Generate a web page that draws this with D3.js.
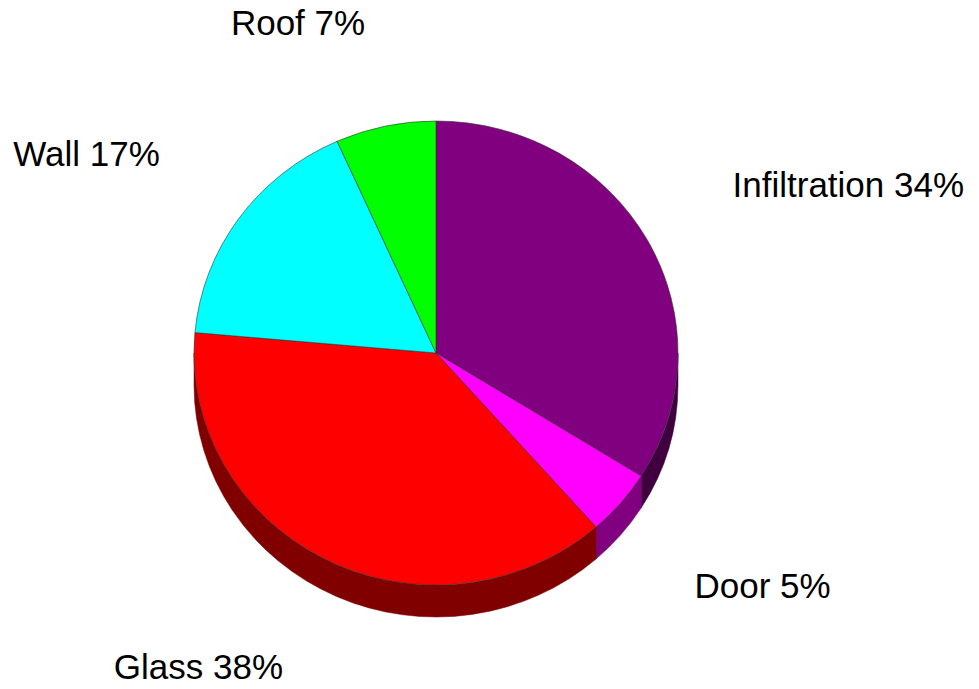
<!DOCTYPE html>
<meta charset="utf-8">
<style>
body { margin: 0; background: #fff; }
.label { font: 35px "Liberation Sans", Arial, sans-serif; fill: #000; }
</style>
<svg width="979" height="689"></svg>
<script src="https://cdn.jsdelivr.net/npm/d3@7"></script>
<script>

// Data (percent of heat loss), clockwise from 12 o'clock
var categories = ["Infiltration", "Door", "Glass", "Wall", "Roof"];
var values = [33.9, 4.6, 37.9, 16.9, 6.7];
var topColors = ["#800080", "#ff00ff", "#ff0000", "#00ffff", "#00ff00"];

var svg = d3.select("svg"),
    cx = 436, cy = 353,     // centre of the top face
    rx = 242, ry = 232,     // ellipse radii
    depth = 32,             // thickness of the disc
    labelRx = 339, labelRy = 330, labelCy = 345,
    labelDrop = 27;         // extra drop for labels in front of the disc

var slices = d3.pie().sort(null).value(function(d) { return d.value; })
  (categories.map(function(c, i) { return {name: c, value: values[i], color: topColors[i]}; }));

// angle measured clockwise from the top
function pt(a, dy) { return [cx + rx * Math.sin(a), cy - ry * Math.cos(a) + (dy || 0)]; }

function sideColor(c) {
  var k = d3.rgb(c);
  return d3.rgb(k.r / 2, k.g / 2, k.b / 2).formatHex();
}

// side walls: only the front half (pi/2 .. 3pi/2) is visible
var sideG = svg.append("g");
slices.forEach(function(s) {
  var a0 = Math.max(s.startAngle, Math.PI / 2),
      a1 = Math.min(s.endAngle, 3 * Math.PI / 2);
  if (a1 <= a0) return;
  var t0 = pt(a0), t1 = pt(a1), b0 = pt(a0, depth), b1 = pt(a1, depth);
  var p = "M" + t0 + "A" + rx + "," + ry + " 0 0 1 " + t1 +
          "L" + b1 + "A" + rx + "," + ry + " 0 0 0 " + b0 + "Z";
  sideG.append("path")
      .attr("d", p)
      .attr("fill", sideColor(s.data.color))
      .attr("stroke", sideColor(s.data.color))
      .attr("stroke-width", 0.5);
});

// top face
var faceG = svg.append("g");
slices.forEach(function(s) {
  var p0 = pt(s.startAngle), p1 = pt(s.endAngle),
      large = (s.endAngle - s.startAngle) > Math.PI ? 1 : 0;
  faceG.append("path")
      .attr("d", "M" + cx + "," + cy + "L" + p0 + "A" + rx + "," + ry + " 0 " + large + " 1 " + p1 + "Z")
      .attr("fill", s.data.color)
      .attr("stroke", "#333")
      .attr("stroke-width", 0.6)
      .attr("stroke-linejoin", "round");
});

// labels
function mid(d) { return (d.startAngle + d.endAngle) / 2; }
svg.append("g").selectAll("text")
  .data(slices)
  .enter().append("text")
    .attr("class", "label")
    .attr("x", function(d) { return cx + labelRx * Math.sin(mid(d)); })
    .attr("y", function(d) {
      var c = Math.cos(mid(d));
      return labelCy - labelRy * c + (c < 0 ? labelDrop : 0);
    })
    .attr("dy", "0.35em")
    .attr("text-anchor", function(d) { return Math.sin(mid(d)) > 0 ? "start" : "end"; })
    .text(function(d) { return d.data.name + " " + Math.round(d.data.value) + "%"; });

</script>
